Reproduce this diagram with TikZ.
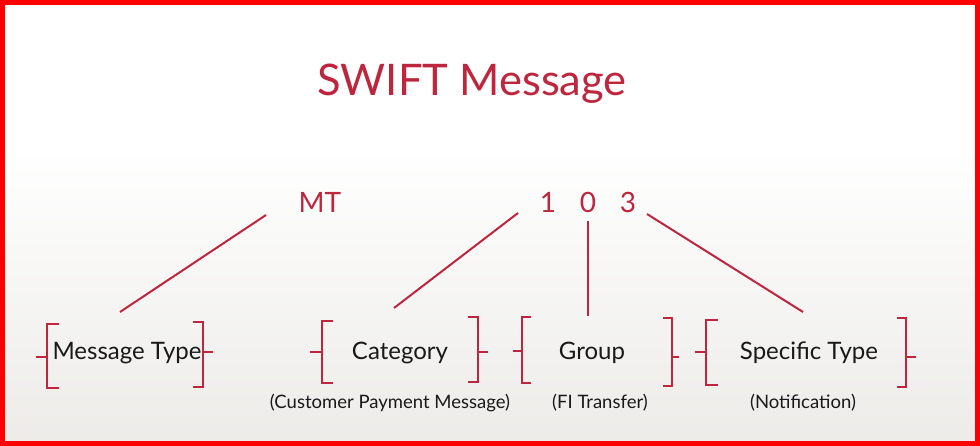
\documentclass[tikz,border=0pt]{standalone}
\usepackage{fontspec}
\setmainfont{Lato}
\definecolor{crim}{RGB}{190,38,62}
\definecolor{ink}{RGB}{25,25,25}
\definecolor{bgbot}{RGB}{236,235,232}
\begin{document}
\begin{tikzpicture}[x=1pt,y=-1pt,
  title/.style={text=crim,font=\fontsize{43.5}{48}\selectfont,inner sep=0pt},
  code/.style={text=crim,font=\fontsize{28}{30}\selectfont,inner sep=0pt},
  lab/.style={text=ink,font=\fontsize{24}{28}\selectfont,inner sep=0pt},
  sub/.style={text=ink,font=\fontsize{18.5}{20}\selectfont,inner sep=0pt},
  link/.style={draw=crim,line width=2pt},
  brk/.style={draw=crim,line width=2.4pt}]
\useasboundingbox (0,0) rectangle (980,446);
\fill[white] (0,0) rectangle (980,150);
\shade[top color=white,bottom color=bgbot] (0,149) rectangle (980,446);
% title
\node[title] (title) at (472,84) {SWIFT Message};
% codes
\node[code] (mt) at (320,202) {MT};
\node[code] (one) at (548,202) {1};
\node[code] (zero) at (588,202) {0};
\node[code] (three) at (628,202) {3};
% labels
\node[lab] (mtype) at (127,353) {Message Type};
\node[lab] (cat) at (400,353) {Category};
\node[lab] (grp) at (592,353) {Group};
\node[lab] (spec) at (809,353) {Specific Type};
\node[sub] (catsub) at (390,403) {(Customer Payment Message)};
\node[sub] (grpsub) at (600,403) {(FI Transfer)};
\node[sub] (specsub) at (803,403) {(Notification)};
% line ends
\coordinate (mtA) at (266,215);
\coordinate (mtB) at (120,312);
\coordinate (oneA) at (518,213);
\coordinate (oneB) at (394,308);
\coordinate (zeroA) at (588,221);
\coordinate (zeroB) at (588,316);
\coordinate (threeA) at (647,214);
\coordinate (threeB) at (803,312);
\draw[link] (mtA) -- (mtB);
\draw[link] (oneA) -- (oneB);
\draw[link] (zeroA) -- (zeroB);
\draw[link] (threeA) -- (threeB);
% brackets: (x, top, bottom, arm x, tick x, tick y)
\newcommand{\lbrk}[6]{\draw[brk] (#4,#2) -- (#1,#2) -- (#1,#3) -- (#4,#3); \draw[brk] (#1,#6) -- (#5,#6);}
\lbrk{47}{324}{388}{59}{36}{357}
\lbrk{203}{322}{387}{193}{213}{352}
\lbrk{322}{321}{383}{333}{310}{352}
\lbrk{478}{317}{382}{468}{488}{352}
\lbrk{522}{317}{383}{531}{513}{351}
\lbrk{672}{318}{386}{663}{679}{357}
\lbrk{706}{320}{385}{718}{695}{352}
\lbrk{906}{318}{387}{897}{916}{357}
% frame
\draw[red,line width=5pt] (2.5,2.5) rectangle (977.5,443.5);
\end{tikzpicture}
\end{document}
